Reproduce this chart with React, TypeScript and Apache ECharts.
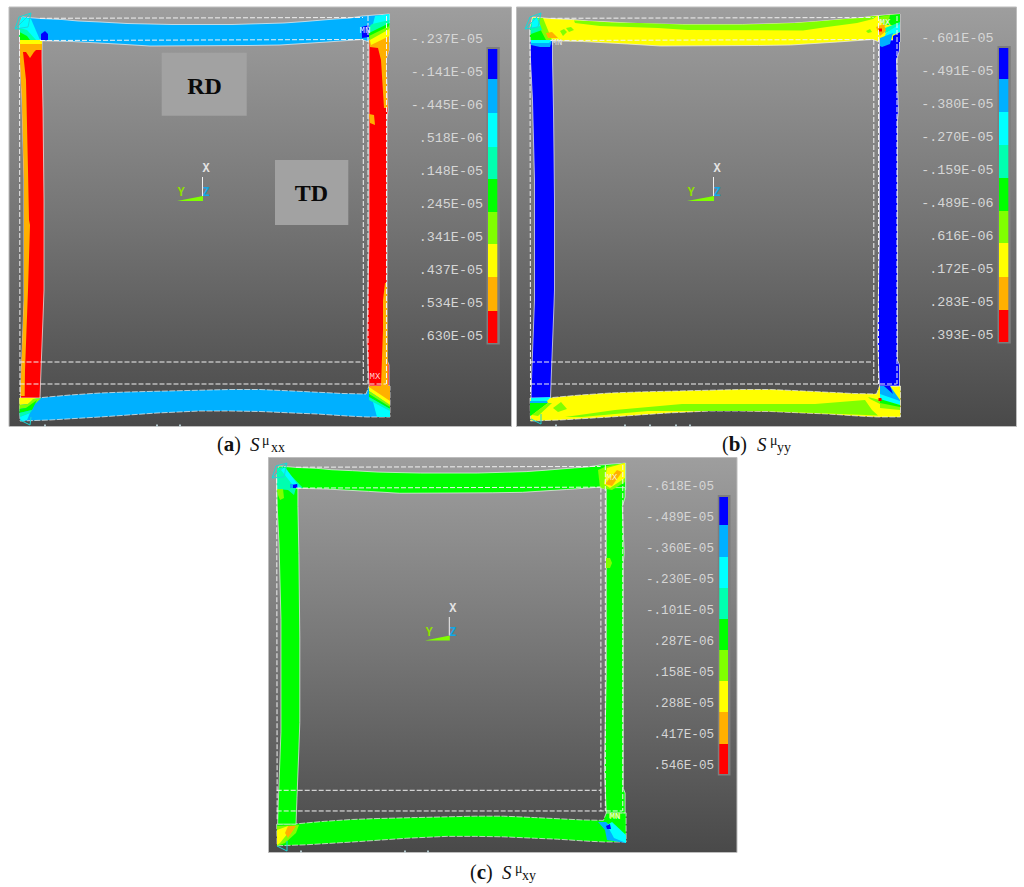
import React, { useEffect, useRef } from "react";
import * as echarts from "echarts";

type Pt = number[];

// ---- legend values (contour levels) ----
const ticksA = ["-.237E-05", "-.141E-05", "-.445E-06", ".518E-06", ".148E-05", ".245E-05", ".341E-05", ".437E-05", ".534E-05", ".630E-05"];
const ticksB = ["-.601E-05", "-.491E-05", "-.380E-05", "-.270E-05", "-.159E-05", "-.489E-06", ".616E-06", ".172E-05", ".283E-05", ".393E-05"];
const ticksC = ["-.618E-05", "-.489E-05", "-.360E-05", "-.230E-05", "-.101E-05", ".287E-06", ".158E-05", ".288E-05", ".417E-05", ".546E-05"];

const BLUE = "#0000ff", SKY = "#00b0ff", CYAN = "#00ffff", TEAL = "#00ffb0", GREEN = "#00ff00";
const LIME = "#80ff00", YELLOW = "#ffff00", ORANGE = "#ffb000", RED = "#ff0000";
const legendColors = [BLUE, SKY, CYAN, TEAL, GREEN, LIME, YELLOW, ORANGE, RED];

// colour-bar boundaries
const barEdgesA = [49, 79, 113, 147, 179, 212, 244, 277, 311, 343];
const barEdgesB = [48, 79, 112, 145, 178, 211, 243, 277, 310, 342];
const barEdgesC = [497, 525, 557, 588, 619, 650, 681, 712, 744, 774];

// ---- plate outline, in the frame of panel (a) ----
const topBand: Pt[] = [[19.5, 28], [22, 17], [40, 18.5], [62, 19.5], [78, 21], [100, 22], [127, 23.5], [172, 24.5], [232, 24.5], [284, 23], [305, 21.5], [335, 19], [350, 18], [362, 16], [375, 15], [389.5, 14], [389.5, 42], [369, 42], [362, 39.5], [327, 42], [280, 45], [248, 45.5], [150, 46], [117, 44], [72, 41.5], [40, 40.7], [19.5, 40]];
const leftCol: Pt[] = [[19.5, 40], [42, 40], [42, 60], [43, 110], [44, 200], [44, 290], [43, 318], [41, 370], [40, 398], [20.5, 398], [21, 380], [24, 300], [24, 180], [22, 100], [20, 60]];
const rightCol: Pt[] = [[369, 40], [389, 40], [389, 50], [386, 60], [388, 110], [387, 120], [387, 280], [387, 360], [389, 365], [389, 386], [369, 386], [367, 340], [369, 240], [369, 85], [369, 60]];
const bottomBand: Pt[] = [[19.5, 398], [40, 397.7], [70, 395], [100, 393], [127, 392], [167, 391], [230, 389.5], [260, 389.5], [293, 391], [343, 393.5], [366, 394], [369, 386], [390, 386], [390, 417], [367, 417], [347, 416], [317, 414], [293, 413], [260, 411.5], [230, 411], [200, 411], [157, 413], [100, 417], [50, 420], [20, 421]];
const guideLines: Pt[][] = [
  [[19.5, 362], [363, 362]], [[19.5, 384], [386, 384]], [[40, 18.3], [363, 17.5]], [[40, 40.5], [363, 39.5]],
  [[19.5, 30], [20, 395]], [[363.3, 40], [363.3, 384]], [[368, 16], [368, 384]], [[386.5, 16], [386.5, 384]],
];

const toA = (p: Pt) => p;
const toB = (p: Pt) => [p[0] + 510.5, p[1]];
const toC = (p: Pt) => [276.7 + (p[0] - 19.5) * 0.943, 466 + (p[1] - 17) * 0.94];

// ---- colour patches, page coordinates ----
type Patch = [string, Pt[]];
const patchesA: Patch[] = [
  [CYAN, [[19.5, 22], [22, 17], [31, 19], [40, 40], [19.5, 40]]],
  [TEAL, [[19.5, 28], [27, 30], [36, 40], [19.5, 40]]],
  [GREEN, [[19.5, 32], [27, 36], [30, 40], [19.5, 40]]],
  [BLUE, [[41, 34], [45, 31], [48, 34], [48, 40], [41, 40]]],
  [YELLOW, [[20, 40], [42, 40], [42, 44], [20, 44]]],
  [ORANGE, [[20, 44], [42, 44], [42, 50], [36, 50], [34, 52], [30, 58], [26, 52], [23, 52], [26, 80], [28, 170], [29, 220], [30, 225], [28, 290], [25, 370], [24.7, 396], [20.5, 396], [21, 380], [24, 300], [24, 180], [22, 100], [20, 60]]],
  [BLUE, [[361.7, 27], [369, 25], [369, 37], [362, 38]]],
  [ORANGE, [[369, 40], [389, 28], [389, 50], [386, 60], [387.5, 108], [384, 108], [381, 60], [378, 48], [370, 47]]],
  [CYAN, [[375, 16], [389.5, 14], [389.5, 22], [372, 28]]],
  [TEAL, [[369, 27], [372, 24], [389.5, 20], [389.5, 25], [370, 33]]],
  [GREEN, [[369, 33], [389.5, 23], [389.5, 28], [369, 38]]],
  [LIME, [[369, 36], [389.5, 26], [389.5, 31], [370, 41]]],
  [YELLOW, [[370, 40], [389.5, 29], [389.5, 36], [371, 45]]],
  [ORANGE, [[369, 114], [374, 115], [375, 125], [370, 123]]],
  [ORANGE, [[385, 283], [387, 283], [388, 386], [381, 386], [383, 330], [383, 300]]],
  [ORANGE, [[369, 386], [390, 386], [390, 405], [369, 390]]],
  [YELLOW, [[369, 387], [390, 401], [390, 405], [369, 391]]],
  [LIME, [[369, 391], [390, 405], [390, 407], [369, 394]]],
  [GREEN, [[369, 394], [390, 407], [390, 409], [369, 397]]],
  [TEAL, [[369, 397], [390, 409], [390, 411], [369, 400]]],
  [CYAN, [[373, 402], [390, 411], [390, 417], [377, 417]]],
  [YELLOW, [[19.5, 398], [36, 398], [28, 404], [19.5, 405]]],
  [LIME, [[19.5, 405], [28, 404], [33, 399], [41, 398], [36, 403], [26, 408], [19.5, 409]]],
  [GREEN, [[19.5, 409], [26, 408], [37, 400], [32, 410], [19.5, 413]]],
  [TEAL, [[19.5, 413], [32, 410], [35, 406], [30, 413], [20, 417]]],
  [CYAN, [[20, 417], [30, 413], [27, 420], [21, 421]]],
];
const patchesB: Patch[] = [
  [LIME, [[574, 20.5], [588, 21], [612, 22.5], [640, 23], [683, 24.5], [743, 24.5], [795, 23], [816, 21.5], [846, 19], [860, 18], [873, 16], [877, 16], [873, 19], [857, 23], [827, 27], [803, 30.5], [688, 30], [658, 28], [600, 26], [575, 23]]],
  [LIME, [[538, 18], [543, 18], [552, 40], [542, 40]]],
  [GREEN, [[530, 28], [538, 25], [546, 40], [530, 40]]],
  [TEAL, [[530, 28], [533, 18], [538, 18], [542, 30], [531, 34]]],
  [CYAN, [[532, 20], [537, 18], [540, 26], [532, 28]]],
  [ORANGE, [[546, 33], [552, 32], [558, 38], [548, 38]]],
  [LIME, [[560, 31], [564, 29], [567, 32], [563, 36]]],
  [LIME, [[566, 28], [571, 27], [574, 30], [569, 32]]],
  [SKY, [[531, 40], [552, 40], [550, 47], [540, 47], [531, 45]]],
  [CYAN, [[531, 40], [552, 40], [549, 43], [531, 43]]],
  [LIME, [[866, 31], [870, 29], [872, 32], [868, 33]]],
  [GREEN, [[878, 16], [900, 14], [900, 25], [884, 25]]],
  [LIME, [[878, 17], [890, 15], [888, 24], [884, 26]]],
  [BLUE, [[893, 36], [900, 32], [900, 42], [893, 42]]],
  [TEAL, [[885, 28], [900, 22], [900, 27], [885, 33]]],
  [CYAN, [[886, 33], [900, 24], [900, 32], [884, 38]]],
  [SKY, [[880, 38], [893, 33], [890, 44], [882, 47], [880, 46]]],
  [ORANGE, [[876, 27], [884, 24], [886, 31], [880, 36]]],
  [RED, [[879, 28.5], [882, 28.5], [882, 31.5], [879, 31.5]]],
  [CYAN, [[531, 398], [551, 397], [547, 401], [531, 401]]],
  [SKY, [[530, 401], [547, 401], [548, 403], [530, 404]]],
  [GREEN, [[530, 403], [548, 403], [532, 415], [530, 416]]],
  [LIME, [[532, 415], [548, 403], [552, 403], [538, 416]]],
  [LIME, [[553, 408], [561, 402], [567, 409], [558, 412]]],
  [LIME, [[565, 417], [615, 410], [682, 404], [815, 404], [865, 400], [872, 410], [878, 415.5], [815, 413], [765, 411], [698, 411], [648, 411], [582, 417]]],
  [LIME, [[868, 397], [880, 400], [880, 404], [870, 399]]],
  [SKY, [[880, 386], [890, 386], [900, 400], [900, 404], [880, 397]]],
  [BLUE, [[884, 386], [890, 386], [893, 394]]],
  [CYAN, [[880, 394], [900, 401], [900, 405], [880, 400]]],
  [GREEN, [[880, 399], [900, 405], [900, 408], [880, 404]]],
  [LIME, [[880, 403], [900, 407], [900, 410], [880, 408]]],
  [RED, [[878.5, 398], [881.5, 398], [881.5, 401], [878.5, 401]]],
];
const patchesC: Patch[] = [
  [TEAL, [[277, 488], [277, 468], [283, 467], [303, 488]]],
  [CYAN, [[281, 470], [285, 467], [300, 488], [295, 488]]],
  [SKY, [[290, 484], [298, 484], [298, 488], [290, 488]]],
  [BLUE, [[293, 485], [297, 484], [297, 488], [293, 488]]],
  [TEAL, [[277, 488], [296, 488], [294, 495], [288, 490], [277, 489]]],
  [LIME, [[277, 489], [283, 489], [284, 498], [280, 500], [278, 495]]],
  [LIME, [[598, 470], [607, 466], [625, 463], [625, 482], [612, 490], [600, 488]]],
  [YELLOW, [[607, 468], [625, 463], [625, 478], [610, 488], [604, 484]]],
  [ORANGE, [[605, 484], [617, 470], [622, 472], [612, 486]]],
  [LIME, [[606, 558], [610, 558], [612, 563], [610, 568], [606, 568]]],
  [LIME, [[277, 826], [299, 825], [296, 833], [285, 843], [277, 846]]],
  [YELLOW, [[277, 830], [288, 826], [288, 833], [280, 843], [277, 845]]],
  [ORANGE, [[285, 833], [288, 826], [296, 826], [292, 832], [288, 838]]],
  [SKY, [[598, 822], [606, 822], [626, 840], [626, 843], [607, 840], [605, 830]]],
  [CYAN, [[607, 825], [612, 822], [626, 835], [626, 843], [614, 838]]],
  [BLUE, [[606, 826], [610, 824], [611, 829], [607, 829]]],
  [LIME, [[609, 813], [620, 813], [620, 818], [609, 818]]],
];
const bottomSpecks: Pt[] = [[45, 425.5], [157, 425.5], [180, 425.5], [556, 425.5], [625, 425.5], [650, 425.5], [676, 425.5], [690, 425.5], [301, 851.5], [405, 851.5], [428, 851.5]];

// ---- shape list, every point goes through the page axes ----
type Shape =
  | { k: "poly"; pts: Pt[]; fill?: any; stroke?: string; lw?: number; dash?: number[] }
  | { k: "line"; pts: Pt[]; stroke: string; lw?: number; dash?: number[] }
  | { k: "text"; at: Pt; text: string; fill: string; font: string; align?: string; rich?: any };

const shapes: Shape[] = [];
const grad = () =>
  new echarts.graphic.LinearGradient(0, 0, 0, 1, [
    { offset: 0, color: "#9e9e9e" },
    { offset: 0.5, color: "#757575" },
    { offset: 1, color: "#494949" },
  ]);
const rectPts = (x0: number, y0: number, x1: number, y1: number): Pt[] => [[x0, y0], [x1, y0], [x1, y1], [x0, y1]];

const MONO = "Liberation Mono";
const SERIF = "Liberation Serif";
const EDGE = "rgba(240,240,240,0.7)";

function addPanel(
  box: number[], tf: (p: Pt) => Pt,
  colors: { top: string; bottom: string; left: string; right: string },
  patches: Patch[],
  bar: number[], barX: number[],
  triad: { x: number; top: number; base: number; left: number },
  marks: { text: string; at: Pt; fill: string }[],
  triangles: Pt[][],
) {
  shapes.push({ k: "poly", pts: rectPts(box[0], box[1], box[2], box[3]), fill: grad(), stroke: "#bdbdbd", lw: 1 });
  const m = (p: Pt[]) => p.map(tf);
  shapes.push({ k: "poly", pts: m(topBand), fill: colors.top, stroke: EDGE, lw: 1 });
  shapes.push({ k: "poly", pts: m(bottomBand), fill: colors.bottom, stroke: EDGE, lw: 1, dash: [6, 1.5] });
  shapes.push({ k: "poly", pts: m(leftCol), fill: colors.left, stroke: EDGE, lw: 1 });
  shapes.push({ k: "poly", pts: m(rightCol), fill: colors.right, stroke: EDGE, lw: 1 });
  patches.forEach(([c, pts]) => shapes.push({ k: "poly", pts, fill: c }));
  guideLines.forEach((g) => shapes.push({ k: "line", pts: m(g), stroke: "#f2f2f2", lw: 1, dash: [5, 2] }));
  triangles.forEach((t) => shapes.push({ k: "line", pts: t, stroke: "#19d8d8", lw: 1 }));
  marks.forEach((k) => shapes.push({ k: "text", at: k.at, text: k.text, fill: k.fill, font: `9px "${MONO}"` }));
  // colour bar
  shapes.push({ k: "poly", pts: rectPts(barX[0] - 1.5, bar[0] - 2, barX[1] + 2.5, bar[bar.length - 1] + 1.5), fill: "#7d7d7d" });
  for (let i = 0; i < bar.length - 1; i++) {
    shapes.push({ k: "poly", pts: rectPts(barX[0], bar[i], barX[1], bar[i + 1]), fill: legendColors[i] });
  }
  // triad
  const { x, top, base, left } = triad;
  shapes.push({ k: "line", pts: [[x, top], [x, base]], stroke: "#f0f0f0", lw: 1 });
  shapes.push({ k: "poly", pts: [[left, base + 5], [x + 0.5, base], [x + 0.5, base + 5]], fill: LIME });
  shapes.push({ k: "text", at: [x + 3.5, top - 8.5], text: "X", fill: "#e4e4e4", font: `bold 12px "${MONO}"` });
  shapes.push({ k: "text", at: [left + 4, base - 3], text: "Y", fill: "#8fe000", font: `bold 12px "${MONO}"` });
  shapes.push({ k: "text", at: [x + 3.5, base - 3], text: "Z", fill: "#10a8e8", font: `bold 12px "${MONO}"` });
}

addPanel([9, 7, 511.5, 426.5], toA, { top: SKY, bottom: SKY, left: RED, right: RED }, patchesA,
  barEdgesA, [488, 497.3], { x: 202.5, top: 177, base: 196, left: 177 },
  [{ text: "MN", at: [365, 31], fill: "#d8f8ff" }, { text: "MX", at: [375, 377], fill: "#ffd0d0" }],
  [[[15, 29], [19, 17], [31, 13], [28, 27], [15, 29], [31, 13]], [[20, 420], [30, 425], [31, 417]]]);
addPanel([516.5, 7, 1016.5, 426.5], toB, { top: YELLOW, bottom: YELLOW, left: BLUE, right: BLUE }, patchesB,
  barEdgesB, [999, 1008.3], { x: 713.5, top: 177, base: 196, left: 687 },
  [{ text: "MN", at: [557, 43], fill: "#e0e0e0" }, { text: "MX", at: [885, 23], fill: "#f4f4f4" }],
  [[[525, 29], [530, 17], [541, 13], [538, 27], [525, 29], [541, 13]], [[531, 419], [541, 424], [541, 414]]]);
addPanel([268.5, 457.5, 737, 852.5], toC, { top: GREEN, bottom: GREEN, left: GREEN, right: GREEN }, patchesC,
  barEdgesC, [719.3, 728], { x: 449.3, top: 617, base: 635.5, left: 425 },
  [{ text: "MX", at: [612, 478], fill: "#f8f0d0" }, { text: "MN", at: [615, 817], fill: "#e8ffe8" }],
  [[[272, 478], [276, 466], [287, 463], [284, 477], [272, 478], [287, 463]], [[277, 846], [287, 851], [287, 841]]]);
bottomSpecks.forEach(([x, y]) => shapes.push({ k: "poly", pts: rectPts(x - 0.8, y - 1, x + 0.8, y + 1), fill: "#cfe8ee" }));

// RD / TD labels
shapes.push({ k: "poly", pts: rectPts(161.7, 52.7, 246.7, 115.7), fill: "#a2a2a2" });
shapes.push({ k: "poly", pts: rectPts(275, 160, 348.3, 225), fill: "#a2a2a2" });
shapes.push({ k: "text", at: [204.5, 85.5], text: "RD", fill: "#0a0a0a", font: `bold 24px "${SERIF}"` });
shapes.push({ k: "text", at: [311.5, 193], text: "TD", fill: "#0a0a0a", font: `bold 24px "${SERIF}"` });

// captions
function caption(x: number, y: number, letter: string, sub: string, dx: number[]) {
  shapes.push({
    k: "text", at: [x, y], text: `{p|(}{b|${letter}}{p|)}`, fill: "#000", font: `20px "${SERIF}"`, align: "left",
    rich: { p: { font: `20px "${SERIF}"`, fill: "#111" }, b: { font: `bold 21px "${SERIF}"`, fill: "#111" } },
  });
  shapes.push({ k: "text", at: [x + dx[0], y], text: "S", fill: "#111", font: `italic 19px "${SERIF}"`, align: "left" });
  shapes.push({ k: "text", at: [x + dx[1], y - 4], text: "μ", fill: "#111", font: `14px "${SERIF}"`, align: "left" });
  shapes.push({ k: "text", at: [x + dx[2], y + 3], text: sub, fill: "#111", font: `14px "${SERIF}"`, align: "left" });
}
caption(217, 444, "a", "xx", [33, 45, 54]);
caption(722, 444, "b", "yy", [35, 48, 55]);
caption(470, 872, "c", "xy", [32, 45, 52]);

const legendAxes = [
  { labels: ticksA, right: 483, first: 39, step: 33, size: 13.4 },
  { labels: ticksB, right: 993.5, first: 38.3, step: 33, size: 13.4 },
  { labels: ticksC, right: 714, first: 487.3, step: 31, size: 12.6 },
];

export default function App() {
  const ref = useRef<HTMLDivElement>(null);
  useEffect(() => {
    document.body.style.margin = "0";
    const chart = echarts.init(ref.current!, undefined, { renderer: "svg" });
    const grids: any[] = [{ left: 0, top: 0, width: 1024, height: 887 }];
    const xAxes: any[] = [{ type: "value", min: 0, max: 1024, show: false, gridIndex: 0 }];
    const yAxes: any[] = [{ type: "value", min: 0, max: 887, inverse: true, show: false, gridIndex: 0 }];
    const tickSeries: any[] = [];
    legendAxes.forEach((l, i) => {
      grids.push({ left: l.right, width: 1, top: l.first - l.step / 2, height: l.step * l.labels.length });
      xAxes.push({ type: "value", min: 0, max: 1, show: false, gridIndex: i + 1 });
      yAxes.push({
        type: "category", gridIndex: i + 1, inverse: true, data: l.labels, show: true, position: "left", z: 20,
        axisLine: { show: false }, axisTick: { show: false }, splitLine: { show: false },
        axisLabel: { show: true, margin: 0, color: "#d6d6d6", fontFamily: MONO, fontSize: l.size, interval: 0, hideOverlap: false },
      });
      tickSeries.push({
        type: "scatter", xAxisIndex: i + 1, yAxisIndex: i + 1, symbolSize: 0, silent: true,
        data: l.labels.map((t) => [0, t]),
      });
    });
    chart.setOption({
      animation: false,
      backgroundColor: "#ffffff",
      grid: grids,
      xAxis: xAxes,
      yAxis: yAxes,
      series: [
        {
          type: "custom",
          coordinateSystem: "cartesian2d",
          xAxisIndex: 0,
          yAxisIndex: 0,
          z: 1,
          clip: false,
          silent: true,
          data: shapes.map((_, i) => [i, i]),
          renderItem: (params: any, api: any) => {
            const s = shapes[params.dataIndex];
            if (s.k === "text") {
              const c = api.coord(s.at);
              return {
                type: "text", x: c[0], y: c[1],
                style: {
                  text: s.text, fill: s.fill, font: s.font, rich: s.rich,
                  align: s.align || "center", verticalAlign: "middle",
                },
              };
            }
            const points = s.pts.map((p) => api.coord(p));
            if (s.k === "line") {
              return {
                type: "polyline", shape: { points },
                style: { fill: "none", stroke: s.stroke, lineWidth: s.lw || 1, lineDash: s.dash },
              };
            }
            return {
              type: "polygon", shape: { points },
              style: { fill: s.fill, stroke: s.stroke, lineWidth: s.lw || 0, lineDash: s.dash },
            };
          },
        },
        ...tickSeries,
      ],
    });
    return () => chart.dispose();
  }, []);
  return <div ref={ref} style={{ position: "absolute", left: 0, top: 0, width: 1024, height: 887 }} />;
}
